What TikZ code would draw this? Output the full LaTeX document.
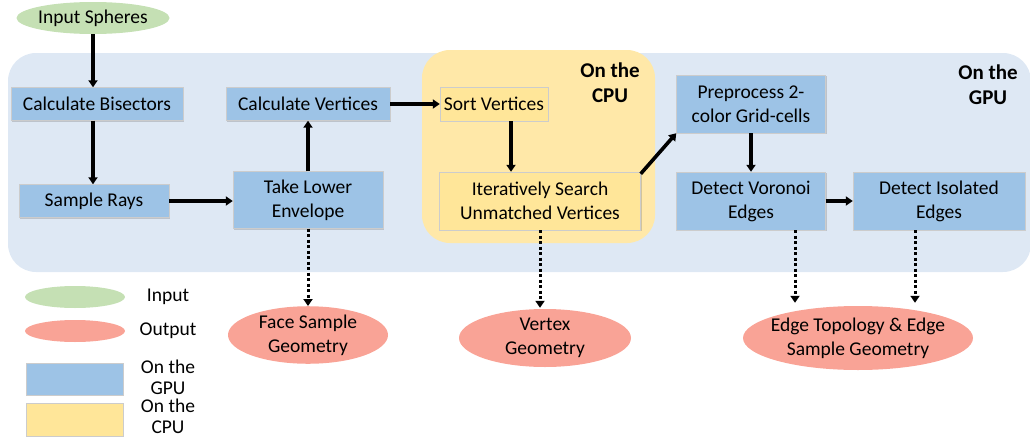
\documentclass[tikz,border=0pt]{standalone}
\usepackage{fontspec}
\setmainfont{Carlito}
\usetikzlibrary{shapes.geometric,arrows.meta,shadows}
\definecolor{gpubg}{HTML}{DEE8F4}
\definecolor{cpubg}{HTML}{FFE8A8}
\definecolor{gpubox}{HTML}{9DC3E6}
\definecolor{cpubox}{HTML}{FFE699}
\definecolor{inpc}{HTML}{C5E0B4}
\definecolor{outc}{HTML}{F9A396}
\tikzset{
  lbl/.style={font=\fontsize{19.5}{24}\selectfont, align=center},
  gbox/.style={lbl, rectangle, fill=gpubox, inner sep=0pt, draw=gray!40, line width=0.4pt,
    drop shadow={opacity=0.35, shadow xshift=1.2pt, shadow yshift=-1.2pt}},
  cbox/.style={gbox, fill=cpubox},
  oell/.style={lbl, ellipse, fill=outc, inner sep=0pt},
  iell/.style={lbl, ellipse, fill=inpc, inner sep=0pt},
  flow/.style={line width=3.6pt, -{Triangle[length=7pt,width=9pt]}},
  dflow/.style={line width=3pt, dash pattern=on 3pt off 2.5pt, -{Triangle[length=7pt,width=9pt]}},
  hdr/.style={lbl, font=\fontsize{21}{25}\selectfont\bfseries},
}
\begin{document}
\begin{tikzpicture}[x=1pt,y=-1pt]
\useasboundingbox (0,0) rectangle (1030,439);
\begin{scope}
\clip (0,0) rectangle (1030,439);
\fill[gpubg, rounded corners=28pt] (8,53) rectangle (1031,272);
\end{scope}
\fill[cpubg, rounded corners=28pt] (422,50) rectangle (655,243);

\node[hdr] (cpulbl) at (610,83) {On the\\CPU};
\node[hdr] (gpulbl) at (988,85) {On the\\GPU};

\node[iell, minimum width=153pt, minimum height=32pt, inner xsep=-10pt] (inp) at (93,18) {Input Spheres};

\node[gbox, minimum width=172pt, minimum height=33pt] (bis) at (97,104) {Calculate Bisectors};
\node[gbox, minimum width=150pt, minimum height=33pt] (rays) at (94,201) {Sample Rays};
\node[gbox, minimum width=164pt, minimum height=33pt] (verts) at (308,104) {Calculate Vertices};
\node[gbox, minimum width=150pt, minimum height=57pt] (env) at (308,200) {Take Lower\\Envelope};
\node[cbox, minimum width=108pt, minimum height=34pt] (sort) at (494,104) {Sort Vertices};
\node[cbox, minimum width=201pt, minimum height=58pt] (iter) at (540,201) {Iteratively Search\\Unmatched Vertices};
\node[gbox, minimum width=149pt, minimum height=58pt] (pre) at (751,104) {Preprocess 2-\\color Grid-cells};
\node[gbox, minimum width=149pt, minimum height=58pt] (vor) at (751,201) {Detect Voronoi\\Edges};
\node[gbox, minimum width=172pt, minimum height=58pt] (iso) at (939,201) {Detect Isolated\\Edges};

\node[oell, minimum width=160pt, minimum height=56pt] (face) at (308,335) {Face Sample\\Geometry};
\node[oell, minimum width=172pt, minimum height=58pt] (vtx) at (545,338) {Vertex\\Geometry};
\node[oell, minimum width=230pt, minimum height=64pt, inner xsep=-7pt, inner ysep=-2pt] (edge) at (858,338) {Edge Topology \& Edge\\Sample Geometry};

% legend
\node[iell, minimum width=100pt, minimum height=22pt] (lin) at (75,297) {};
\node[oell, minimum width=100pt, minimum height=22pt] (lout) at (75,331) {};
\node[gbox, minimum width=97pt, minimum height=32pt] (lgpu) at (74.5,379) {};
\node[cbox, minimum width=97pt, minimum height=33pt] (lcpu) at (74.5,419.5) {};
\node[lbl, anchor=center] (tin) at (168,297) {Input};
\node[lbl, anchor=center] (tout) at (168,331) {Output};
\node[lbl, anchor=center, font=\fontsize{19.5}{21}\selectfont] (tgpu) at (168,377) {On the\\GPU};
\node[lbl, anchor=center, font=\fontsize{19.5}{21}\selectfont] (tcpu) at (168,416) {On the\\CPU};

% connectors
\draw[flow] (inp.south) -- (inp.south |- bis.north);
\draw[flow] (bis.south -| inp.south) -- (inp.south |- rays.north);
\draw[flow] (rays.east) -- (env.west |- rays.east);
\draw[flow] (env.north) -- (verts.south);
\draw[flow] (verts.east) -- (sort.west);
\draw[flow] ([xshift=17pt]sort.south) -- ([xshift=17pt]sort.south |- iter.north);
\draw[flow] ([yshift=-2pt]iter.north east) -- (pre.south west);
\draw[flow] (pre.south) -- (vor.north);
\draw[flow] (vor.east) -- (iso.west);

\draw[dflow] (env.south) -- (face.north);
\draw[dflow] (iter.south) -- ([yshift=1pt]iter.south |- vtx.north);
\draw[dflow] ([xshift=44pt]vor.south) -- ([xshift=44pt,yshift=3pt]vor.south |- edge.north);
\draw[dflow] ([xshift=-24pt]iso.south) -- ([xshift=-24pt,yshift=3pt]iso.south |- edge.north);
\end{tikzpicture}
\end{document}
